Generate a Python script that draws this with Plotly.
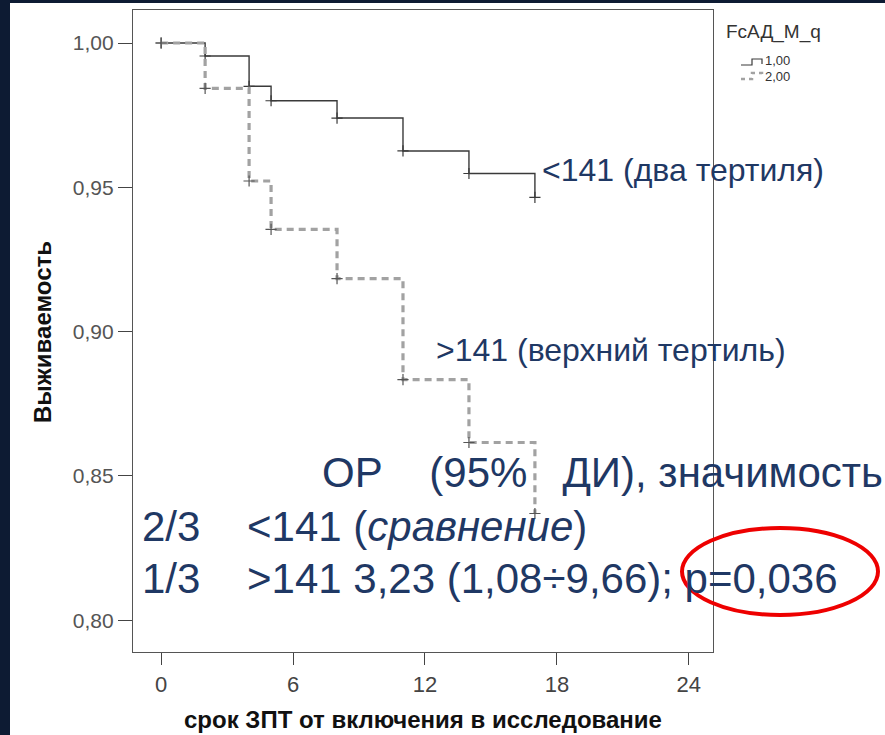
import plotly.graph_objects as go

# ---- data ----
times_low = [0, 2, 4, 5, 8, 11, 14, 17]
surv_low = [1.0, 0.9955, 0.985, 0.980, 0.974, 0.9626, 0.9548, 0.9465]
times_high = [0, 2, 4, 5, 8, 11, 14, 17]
surv_high = [1.0, 0.9843, 0.9522, 0.9354, 0.9184, 0.8834, 0.8616, 0.837]
group_names = ["1,00", "2,00"]
x_ticks = [0, 6, 12, 18, 24]
x_ticktext = ["0", "6", "12", "18", "24"]
y_ticks = [0.80, 0.85, 0.90, 0.95, 1.00]
y_ticktext = ["0,80", "0,85", "0,90", "0,95", "1,00"]

W, H = 885, 735
L, R, T, B = 133, 713, 10, 652

def px(x):
    return (x - L) / (R - L)

def py(y):
    return (B - y) / (B - T)

NAVY = "#1F3864"
fig = go.Figure()

fig.add_trace(go.Scatter(x=times_low, y=surv_low, mode="lines", line_shape="hv",
                         line=dict(color="#3a3a3a", width=1.4), name=group_names[0],
                         showlegend=False, hoverinfo="skip"))
fig.add_trace(go.Scatter(x=times_low, y=surv_low, mode="markers",
                         marker=dict(symbol="cross-thin", size=8, line=dict(color="#3a3a3a", width=1.2)),
                         showlegend=False, hoverinfo="skip"))
fig.add_trace(go.Scatter(x=times_high, y=surv_high, mode="lines", line_shape="hv",
                         line=dict(color="#a2a2a2", width=3.2, dash="7px,5px"), name=group_names[1],
                         showlegend=False, hoverinfo="skip"))
fig.add_trace(go.Scatter(x=times_high, y=surv_high, mode="markers",
                         marker=dict(symbol="cross-thin", size=8, line=dict(color="#555555", width=1.2)),
                         showlegend=False, hoverinfo="skip"))

fig.update_layout(
    width=W, height=H,
    margin=dict(l=L, r=W - R, t=T, b=H - B, pad=0),
    paper_bgcolor="white", plot_bgcolor="white",
    xaxis=dict(range=[-1.28, 25.1], tickvals=x_ticks, ticktext=x_ticktext,
               showgrid=False, zeroline=False, showline=True, mirror=True,
               linecolor="#555555", linewidth=1.3, ticks="outside", ticklen=12,
               tickwidth=1.3, tickcolor="#444444",
               tickfont=dict(family="Liberation Sans Narrow, Arial Narrow, Liberation Sans, sans-serif",
                             size=22, color="#444444")),
    yaxis=dict(range=[0.78901, 1.01144], tickvals=y_ticks, ticktext=y_ticktext,
               showgrid=False, zeroline=False, showline=True, mirror=True,
               linecolor="#555555", linewidth=1.3, ticks="outside", ticklen=14,
               tickwidth=1.3, tickcolor="#444444",
               tickfont=dict(family="Liberation Sans, Arial, sans-serif", size=21, color="#555555")),
    showlegend=False,
)

shapes = [
    # slide background strips
    dict(type="rect", xref="paper", yref="paper", x0=px(0), x1=px(W), y0=py(3), y1=py(0),
         fillcolor="#0D1B33", line=dict(width=0), layer="above"),
    dict(type="rect", xref="paper", yref="paper", x0=px(0), x1=px(10), y0=py(H), y1=py(0),
         fillcolor="#0D1B33", line=dict(width=0), layer="above"),
    # red ellipse
    dict(type="circle", xref="paper", yref="paper", x0=px(682), x1=px(878), y0=py(615), y1=py(528),
         line=dict(color="#EE0000", width=4), layer="above"),
    # legend symbols
    dict(type="path", xref="paper", yref="paper",
         path=f"M {px(741)} {py(65)} L {px(752)} {py(65)} L {px(752)} {py(59)} L {px(762)} {py(59)} L {px(762)} {py(64)}",
         line=dict(color="#3a3a3a", width=1.2)),
    dict(type="path", xref="paper", yref="paper",
         path=f"M {px(741)} {py(79)} L {px(752)} {py(79)} L {px(752)} {py(73)} L {px(762)} {py(73)} L {px(762)} {py(78)}",
         line=dict(color="#a2a2a2", width=2.5, dash="4px,4px")),
]
fig.update_layout(shapes=shapes)

SANS = "Liberation Sans, Arial, sans-serif"
NARROW = "Liberation Sans Narrow, Arial Narrow, Liberation Sans, sans-serif"
NB = "\u00a0"

def ann(text, x, y, size, color=NAVY, family=SANS, xanchor="left", angle=0):
    fig.add_annotation(text=text, xref="paper", yref="paper", x=px(x), y=py(y),
                       xanchor=xanchor, yanchor="middle", showarrow=False, textangle=angle,
                       font=dict(family=family, size=size, color=color))

ann("&lt;141 (два тертиля)", 540, 170, 32)
ann("&gt;141 (верхний тертиль)", 434, 350, 32)
ann("ОР" + NB * 4 + "(95%" + NB * 3 + "ДИ), значимость", 320, 472, 42)
ann("2/3" + NB * 4 + "&lt;141 (<i>сравнение</i>)", 140, 526, 42)
ann("1/3" + NB * 4 + "&gt;141 3,23 (1,08÷9,66); p=0,036", 140, 578, 42)

# axis titles
ann("<b>Выживаемость</b>", 43, 332, 24, color="#111111", family=NARROW, xanchor="center", angle=-90)
ann("<b>срок ЗПТ от включения в исследование</b>", 423, 719, 24, color="#111111", family=NARROW,
    xanchor="center")

# legend
ann("FcАД_M_q", 724, 32, 19, color="#333333")
ann("1,00", 763, 61, 13, color="#333333")
ann("2,00", 763, 76, 13, color="#333333")

fig.write_html("out.html")
